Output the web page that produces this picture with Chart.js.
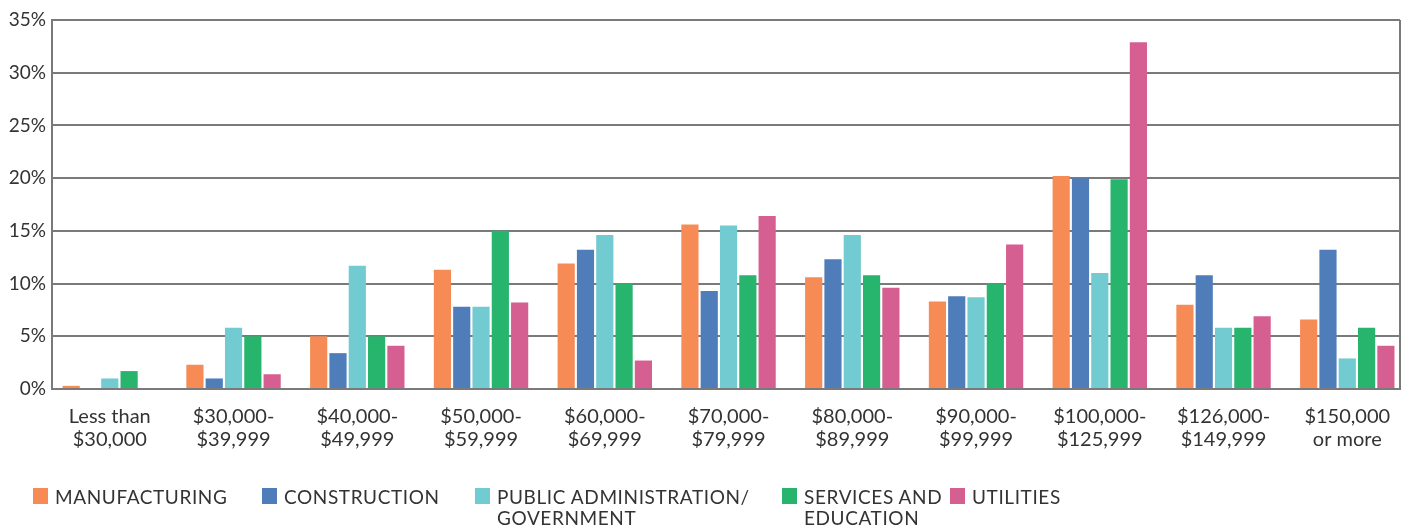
<!DOCTYPE html>
<html>
<head>
<meta charset="utf-8">
<script src="https://cdn.jsdelivr.net/npm/chart.js@4/dist/chart.umd.min.js"></script>
<style>
  html, body { margin: 0; padding: 0; background: #fff; }
  #wrap { position: relative; width: 1401px; height: 529px; }
  canvas { position: absolute; left: 0; top: 0; }
  #legend { position: absolute; left: 0; top: 486px; width: 1401px; height: 43px; font-family: Lato, "Open Sans", sans-serif; font-size: 19px; color: #333; }
  .li { position: absolute; top: 0; }
  .sw { position: absolute; left: 0; top: 2px; width: 15px; height: 16px; }
  .lt { position: absolute; top: 0; line-height: 21px; white-space: nowrap; letter-spacing: 0.6px; }
</style>
</head>
<body>
<div id="wrap">
  <canvas id="c" width="1401" height="529"></canvas>
  <div id="legend"></div>
</div>
<script>
const categories = [
  ["Less than", "$30,000"],
  ["$30,000-", "$39,999"],
  ["$40,000-", "$49,999"],
  ["$50,000-", "$59,999"],
  ["$60,000-", "$69,999"],
  ["$70,000-", "$79,999"],
  ["$80,000-", "$89,999"],
  ["$90,000-", "$99,999"],
  ["$100,000-", "$125,999"],
  ["$126,000-", "$149,999"],
  ["$150,000", "or more"]
];
const seriesNames = ["MANUFACTURING", "CONSTRUCTION", "PUBLIC ADMINISTRATION/\nGOVERNMENT", "SERVICES AND\nEDUCATION", "UTILITIES"];
const manufacturing = [0.3, 2.3, 5.0, 11.3, 11.9, 15.6, 10.6, 8.3, 20.2, 8.0, 6.6];
const construction  = [0, 1.0, 3.4, 7.8, 13.2, 9.3, 12.3, 8.8, 20.0, 10.8, 13.2];
const publicAdmin   = [1.0, 5.8, 11.7, 7.8, 14.6, 15.5, 14.6, 8.7, 11.0, 5.8, 2.9];
const services      = [1.7, 5.0, 5.0, 15.0, 10.0, 10.8, 10.8, 10.0, 19.9, 5.8, 5.8];
const utilities     = [0, 1.4, 4.1, 8.2, 2.7, 16.4, 9.6, 13.7, 32.9, 6.9, 4.1];
const yTicks = [0, 5, 10, 15, 20, 25, 30, 35];

const colors = ["#F68B56", "#4E7DBA", "#72CBD0", "#27B46D", "#D65F91"];
const seriesData = [manufacturing, construction, publicAdmin, services, utilities];
const FONT = 'Lato, "Open Sans", sans-serif';

const rightBorder = {
  id: 'rightBorder',
  afterDraw(chart) {
    const { ctx, chartArea } = chart;
    ctx.save();
    ctx.strokeStyle = '#7a7a7a';
    ctx.lineWidth = 2;
    ctx.beginPath();
    ctx.moveTo(chartArea.right, chartArea.top);
    ctx.lineTo(chartArea.right, chartArea.bottom);
    ctx.stroke();
    ctx.restore();
  }
};

new Chart(document.getElementById('c'), {
  type: 'bar',
  data: {
    datasets: seriesNames.map((n, i) => ({
      label: n,
      data: seriesData[i].map((v, k) => ({ x: k, y: v })),
      backgroundColor: colors[i],
      borderWidth: 0,
      categoryPercentage: 0.78,
      barPercentage: 0.89
    }))
  },
  options: {
    responsive: false,
    animation: false,
    devicePixelRatio: 1,
    layout: { padding: { top: 20, right: 1, left: 0, bottom: 0 } },
    plugins: { legend: { display: false }, tooltip: { enabled: false } },
    scales: {
      x: {
        type: 'linear',
        offset: false,
        min: -0.467,
        max: categories.length - 1 + 0.426,
        afterBuildTicks(scale) { scale.ticks = categories.map((c, i) => ({ value: i })); },
        grid: { display: false },
        border: { display: true, color: '#7a7a7a', width: 2 },
        ticks: {
          color: '#333',
          font: { family: FONT, size: 20, lineHeight: 1.15 },
          padding: 8,
          maxRotation: 0,
          autoSkip: false,
          callback: v => categories[v]
        },
        afterFit(scale) { scale.height = 140; }
      },
      y: {
        min: 0, max: 35,
        afterBuildTicks(scale) { scale.ticks = yTicks.map(v => ({ value: v })); },
        grid: { color: '#7a7a7a', lineWidth: 2, drawTicks: false },
        border: { display: true, color: '#7a7a7a', width: 2 },
        ticks: {
          color: '#333',
          font: { family: FONT, size: 19 },
          padding: 6,
          callback: v => v + '%'
        },
        afterFit(scale) { scale.width = 52; }
      }
    }
  },
  plugins: [rightBorder]
});

// HTML legend built from series names
const legendPos = [33, 262, 475, 782, 950];
const legend = document.getElementById('legend');
seriesNames.forEach((n, i) => {
  const item = document.createElement('div');
  item.className = 'li';
  item.style.left = legendPos[i] + 'px';
  const sw = document.createElement('div');
  sw.className = 'sw';
  sw.style.background = colors[i];
  const t = document.createElement('div');
  t.className = 'lt';
  t.style.left = '22px';
  t.innerHTML = n.split('\n').join('<br>');
  item.appendChild(sw);
  item.appendChild(t);
  legend.appendChild(item);
});
</script>
</body>
</html>
